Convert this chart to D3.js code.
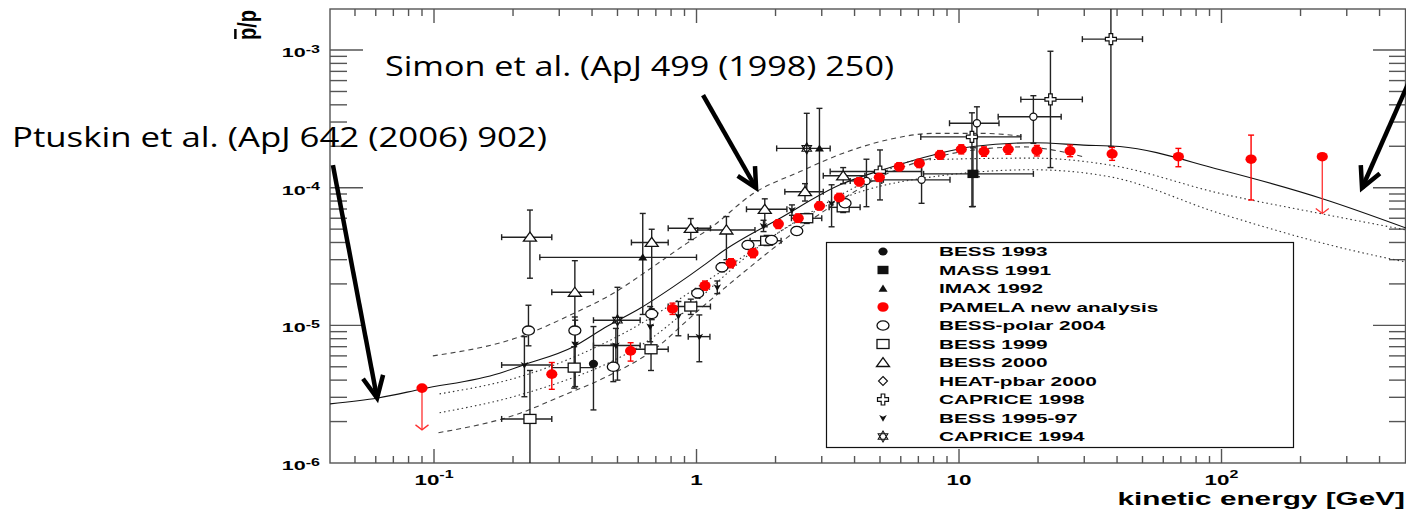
<!DOCTYPE html>
<html><head><meta charset="utf-8">
<script src="https://cdn.jsdelivr.net/npm/d3@7"></script>
<style>body{margin:0;background:#fff;overflow:hidden}</style>
</head><body>
<svg id="c" width="1406" height="513"></svg>
<script>
// ---------------- DATA ----------------
const xTickValues = [0.1, 1, 10, 100];
const xTickBase = ["10", "1", "10", "10"];
const xTickSup = ["-1", "", "", "2"];
const yTickValues = [1e-6, 1e-5, 1e-4, 1e-3];
const yTickBase = ["10", "10", "10", "10"];
const yTickSup = ["-6", "-5", "-4", "-3"];
const xTitle = "kinetic energy [GeV]";
const yTitle = "p/p";
const simonText = "Simon et al. (ApJ 499 (1998) 250)";
const ptuskinText = "Ptuskin et al. (ApJ 642 (2006) 902)";

// model curves [E (GeV), pbar/p]
const ptuskinSolid = [[0.0402,2.69e-6],[0.0612,2.97e-6],[0.090,3.45e-6],[0.178,4.49e-6],[0.219,5.15e-6],[0.340,7.0e-6],[0.455,9.8e-6],[0.610,1.33e-5],[0.817,1.91e-5],[1.094,2.83e-5],[1.229,3.34e-5],[2.08,6.0e-5],[3.52,1.05e-4],[5.31,1.38e-4],[7.98,1.73e-4],[11.3,1.99e-4],[19.2,2.12e-4],[29.8,2.04e-4],[41.0,1.99e-4],[98.7,1.35e-4],[244,8.28e-5],[505,5.09e-5]];
const simonUpper = [[0.099,6.0e-6],[0.213,8.28e-6],[0.340,1.22e-5],[0.482,1.71e-5],[0.684,2.67e-5],[0.918,3.94e-5],[1.125,5.07e-5],[1.65,9.1e-5],[2.48,1.31e-4],[3.62,1.78e-4],[5.31,2.22e-4],[7.98,2.48e-4],[12.4,2.48e-4],[17.8,2.35e-4]];
const simonLower = [[0.104,1.66e-6],[0.213,2.30e-6],[0.302,3.03e-6],[0.455,4.24e-6],[0.684,6.6e-6],[1.0,1.25e-5],[1.5,2.4e-5],[2.2,4.3e-5],[3.5,8.0e-5],[5.5,1.3e-4],[8.5,1.7e-4],[13,1.93e-4],[17.5,1.98e-4],[22,1.9e-4],[29.6,1.68e-4]];
const dottedUpper = [[0.105,3.18e-6],[0.213,4.24e-6],[0.542,9.0e-6],[1.16,2.26e-5],[2.5,6.0e-5],[4.2,1.05e-4],[7.1,1.59e-4],[19.1,1.64e-4],[37.6,1.46e-4],[98.6,9.1e-5],[237,6.5e-5],[505,4.93e-5]];
const dottedLower = [[0.105,2.32e-6],[0.213,3.13e-6],[0.573,6.6e-6],[2.13,4.93e-5],[3.73,8.6e-5],[7.96,1.2e-4],[19.1,1.35e-4],[37.6,1.2e-4],[98.6,6.5e-5],[309,3.53e-5],[505,2.88e-5]];

// PAMELA [E, value, low, high]
const pamela = [[0.281,4.42e-6,3.43e-6,5.37e-6],[0.561,6.52e-6,5.5e-6,7.48e-6],[0.810,1.32e-5,1.2e-5,1.45e-5],[1.077,1.94e-5,1.8e-5,2.1e-5],[1.353,2.84e-5,2.62e-5,3.05e-5],[1.641,3.36e-5,3.1e-5,3.62e-5],[2.05,5.45e-5,5.05e-5,5.85e-5],[2.44,6.0e-5,5.6e-5,6.45e-5],[2.94,7.36e-5,6.9e-5,7.9e-5],[3.50,8.46e-5,7.9e-5,9.1e-5],[4.17,1.105e-4,1.03e-4,1.18e-4],[4.97,1.19e-4,1.11e-4,1.28e-4],[5.92,1.42e-4,1.33e-4,1.52e-4],[7.06,1.50e-4,1.40e-4,1.61e-4],[8.47,1.73e-4,1.61e-4,1.86e-4],[10.2,1.90e-4,1.76e-4,2.05e-4],[12.45,1.83e-4,1.69e-4,1.98e-4],[15.4,1.90e-4,1.75e-4,2.06e-4],[19.8,1.86e-4,1.70e-4,2.03e-4],[26.5,1.85e-4,1.68e-4,2.04e-4],[38.3,1.76e-4,1.58e-4,1.96e-4],[68.5,1.68e-4,1.42e-4,1.93e-4],[129.6,1.61e-4,8.14e-5,2.41e-4]];
// PAMELA upper limits [E, value, arrow end]
const pamelaLimits = [[0.090,3.5e-6,1.74e-6],[242,1.68e-4,6.5e-5]];

// other experiments [E, value, E low, E high, value low, value high]
const bess1993 = [[0.405,5.25e-6,null,null,2.43e-6,9.8e-6]];
const mass1991 = [[11.3,1.26e-4,7.33,19.2,7.3e-5,1.95e-4]];
const imax1992 = [[0.624,3.12e-5,0.253,1.0,1.2e-5,6.5e-5],[2.94,1.93e-4,null,null,7.5e-5,3.77e-4]];
const bessPolar2004 = [[0.229,9.16e-6,null,null,7.1e-6,1.4e-5],[0.344,9.16e-6,null,null,7.5e-6,1.15e-5],[0.482,5.0e-6,null,null,3.9e-6,7.3e-6],[0.675,1.21e-5,null,null,1.1e-5,1.32e-5],[1.01,1.71e-5,null,null,1.58e-5,1.85e-5],[1.25,2.64e-5,null,null,2.45e-5,2.85e-5],[1.57,3.84e-5,null,null,3.6e-5,4.1e-5],[1.93,4.17e-5,null,null,3.9e-5,4.45e-5],[2.41,4.85e-5,null,null,4.55e-5,5.2e-5],[3.68,7.7e-5,null,null,7.2e-5,8.2e-5]];
const bess1999 = [[0.232,2.09e-6,0.181,0.281,9e-7,4.7e-6],[0.342,4.93e-6,0.281,0.405,3.5e-6,7.0e-6],[0.671,6.7e-6,0.565,0.78,4.7e-6,1.0e-5],[0.951,1.37e-5,0.78,1.13,1.2e-5,1.55e-5],[1.85,4.12e-5,1.6,2.1,3.8e-5,4.5e-5],[2.63,6.0e-5,2.3,3.0,5.5e-5,6.5e-5],[3.62,7.2e-5,3.2,4.2,6.6e-5,7.8e-5]];
const bess2000 = [[0.232,4.37e-5,0.181,0.281,2.2e-5,6.88e-5],[0.344,1.74e-5,0.281,0.405,9.3e-6,2.95e-5],[0.675,4.0e-5,0.565,0.78,1.23e-5,4.99e-5],[0.951,5.07e-5,0.78,1.13,4.2e-5,5.97e-5],[1.30,4.93e-5,1.01,1.67,3.0e-5,6.17e-5],[1.82,6.97e-5,1.55,2.21,5.2e-5,8.3e-5],[2.59,9.35e-5,2.17,3.04,8.0e-5,1.07e-4],[3.62,1.22e-4,3.04,4.38,1.07e-4,1.4e-4]];
const heat2000 = [[4.44,1.12e-4,3.85,5.08,7.28e-5,1.61e-4],[7.2,1.14e-4,5.15,9.24,7.7e-5,1.59e-4],[11.7,2.94e-4,9.2,14.2,1.2e-4,3.87e-4],[19.2,3.28e-4,14.1,24.5,2.1e-4,4.66e-4]];
const caprice1998 = [[5.0,1.31e-4,3.23,7.2,8.15e-5,1.88e-4],[11.2,2.34e-4,7.15,17.2,7.28e-5,3.5e-4],[22.3,4.38e-4,17.2,29.5,1.4e-4,9.8e-4],[37.9,1.2e-3,29.5,50,1.99e-4,2.5e-3]];
const bess1995_97 = [[0.221,5.15e-6,0.181,0.281,3.03e-6,8.28e-6],[0.345,7.3e-6,null,null,3.59e-6,1.09e-5],[0.493,7.13e-6,0.405,0.61,5.0e-6,9.5e-6],[0.666,9.8e-6,null,null,7.6e-6,1.37e-5],[0.853,1.17e-5,null,null,8.4e-6,1.49e-5],[1.025,8.28e-6,0.93,1.125,5.44e-6,1.19e-5],[1.20,1.89e-5,null,null,1.7e-5,2.1e-5],[1.80,5.27e-5,null,null,4.8e-5,5.8e-5],[2.31,6.88e-5,null,null,6.3e-5,7.5e-5],[3.27,7.7e-5,null,null,5.2e-5,1.05e-4]];
const caprice1994 = [[0.50,1.09e-5,0.405,0.61,4.0e-6,1.89e-5],[2.63,1.93e-4,2.02,3.23,9.1e-5,3.47e-4]];

const legendLabels = ["BESS 1993","MASS 1991","IMAX 1992","PAMELA new analysis","BESS-polar 2004","BESS 1999","BESS 2000","HEAT-pbar 2000","CAPRICE 1998","BESS 1995-97","CAPRICE 1994"];
const legendMarkers = ["fcircle","fsquare","ftri","red","ocircle","osquare","otri","diamond","cross","bess95","star"];

// annotation arrows [start E, start value, tip E, tip value]
const arrowPtuskin = [0.0412,1.46e-4,0.0607,2.96e-6];
const arrowSimon = [1.059,4.71e-4,1.686,9.95e-5];
const arrowRight = [520,6.0e-4,343,9.95e-5];

// ---------------- DRAWING ----------------
const L = 330, R = 1406, T = 9, B = 463;
const svg = d3.select("#c");
const x = d3.scaleLog().domain([0.04016, 504.4]).range([L, R]);
const y = d3.scaleLog().domain([1e-6, 1.987e-3]).range([B, T]);
const FONT = "'Liberation Sans', Arial, Helvetica, sans-serif";
const AX = "#555";

svg.append("rect").attr("width",1406).attr("height",513).attr("fill","#fff");
svg.append("clipPath").attr("id","plot").append("rect").attr("x",L).attr("y",T).attr("width",R-L).attr("height",B-T);

// ticks
const tg = svg.append("g").attr("stroke",AX).attr("stroke-width",1.4);
const isMajor = v => Math.abs(Math.log10(v) - Math.round(Math.log10(v))) < 1e-6;
x.ticks().filter(v => x(v) > L + 1 && x(v) < R - 1).forEach(v => {
  const len = isMajor(v) ? 14 : 7;
  tg.append("line").attr("x1",x(v)).attr("x2",x(v)).attr("y1",B).attr("y2",B-len);
  tg.append("line").attr("x1",x(v)).attr("x2",x(v)).attr("y1",T).attr("y2",T+len);
});
y.ticks().filter(v => y(v) > T + 1 && y(v) < B - 1).forEach(v => {
  const len = isMajor(v) ? 33 : 17;
  tg.append("line").attr("y1",y(v)).attr("y2",y(v)).attr("x1",L).attr("x2",L+len);
  tg.append("line").attr("y1",y(v)).attr("y2",y(v)).attr("x1",R).attr("x2",R-len);
});
svg.append("rect").attr("x",L).attr("y",T).attr("width",R-L-0.5).attr("height",B-T)
  .attr("fill","none").attr("stroke",AX).attr("stroke-width",1.4);

// tick labels
function stretched(px, py, anchor, size, sx) {
  return svg.append("text").attr("transform",`translate(${px},${py}) scale(${sx},1)`)
    .attr("text-anchor",anchor).attr("font-family",FONT).attr("font-weight","bold")
    .attr("font-size",size).attr("fill","#000");
}
xTickValues.forEach((v,i) => {
  const t = stretched(x(v), 485, "middle", 14, 1.6);
  t.append("tspan").text(xTickBase[i]);
  if (xTickSup[i]) t.append("tspan").attr("dy",-7).attr("font-size",10).text(xTickSup[i]);
});
yTickValues.forEach((v,i) => {
  const t = stretched(320, y(v)+7, "end", 13.5, 1.6);
  t.append("tspan").text(yTickBase[i]);
  t.append("tspan").attr("dy",-4.5).attr("font-size",10).text(yTickSup[i]);
});
stretched(1405, 505, "end", 18.6, 1.6).text(xTitle);
// y title, rotated
const yt = svg.append("g").attr("transform","translate(256,40) scale(1.25,1) rotate(-90)");
yt.append("text").attr("font-family",FONT).attr("font-weight","bold").attr("font-size",20).text(yTitle);
yt.append("line").attr("x1",1).attr("x2",11).attr("y1",-16.5).attr("y2",-16.5).attr("stroke","#000").attr("stroke-width",2);

// curves
const cg = svg.append("g").attr("clip-path","url(#plot)").attr("fill","none");
const line = d3.line().x(d => x(d[0])).y(d => y(d[1])).curve(d3.curveMonotoneX);
cg.append("path").attr("d",line(ptuskinSolid)).attr("stroke","#111").attr("stroke-width",1.1);
cg.append("path").attr("d",line(simonUpper)).attr("stroke","#444").attr("stroke-width",1.1).attr("stroke-dasharray","5,4");
cg.append("path").attr("d",line(simonLower)).attr("stroke","#444").attr("stroke-width",1.1).attr("stroke-dasharray","5,4");
cg.append("path").attr("d",line(dottedUpper)).attr("stroke","#333").attr("stroke-width",1.1).attr("stroke-dasharray","1.5,3");
cg.append("path").attr("d",line(dottedLower)).attr("stroke","#333").attr("stroke-width",1.1).attr("stroke-dasharray","1.5,3");

// markers
function marker(g, type, cx, cy) {
  const s = g.append("g").attr("transform",`translate(${cx},${cy})`);
  const blk = "#111";
  switch (type) {
    case "fcircle": s.append("ellipse").attr("rx",4.6).attr("ry",4).attr("fill",blk); break;
    case "fsquare": s.append("rect").attr("x",-5.5).attr("y",-4.2).attr("width",11).attr("height",8.4).attr("fill",blk); break;
    case "ftri": s.append("path").attr("d","M-4.5,3.2L4.5,3.2L0,-4Z").attr("fill",blk); break;
    case "red": s.append("ellipse").attr("rx",5.6).attr("ry",4.8).attr("fill","#ff0000"); break;
    case "ocircle": s.append("ellipse").attr("rx",6).attr("ry",4.6).attr("fill","#fff").attr("stroke",blk).attr("stroke-width",1.3); break;
    case "osquare": s.append("rect").attr("x",-6).attr("y",-4.5).attr("width",12).attr("height",9).attr("fill","#fff").attr("stroke",blk).attr("stroke-width",1.3); break;
    case "otri": s.append("path").attr("d","M-6.5,4L6.5,4L0,-5Z").attr("fill","#fff").attr("stroke",blk).attr("stroke-width",1.3); break;
    case "heat": s.append("circle").attr("r",3.6).attr("fill","#fff").attr("stroke",blk).attr("stroke-width",1.2); break;
    case "diamond": s.append("path").attr("d","M0,-4.5L4.5,0L0,4.5L-4.5,0Z").attr("fill","#fff").attr("stroke",blk).attr("stroke-width",1.1); break;
    case "cross": s.append("path").attr("d","M-1.8,-5.5H1.8V-1.8H5.5V1.8H1.8V5.5H-1.8V1.8H-5.5V-1.8H-1.8Z").attr("fill","#fff").attr("stroke",blk).attr("stroke-width",1.2); break;
    case "bess95": s.append("path").attr("d","M-3.8,-3L0,-1.2L3.8,-3L0,3.8Z").attr("fill",blk); break;
    case "star": s.append("path").attr("d","M0,-5.5L4.8,2.8L-4.8,2.8Z M0,5.5L4.8,-2.8L-4.8,-2.8Z").attr("fill","none").attr("stroke",blk).attr("stroke-width",1.1); break;
  }
}

const dg = svg.append("g").attr("clip-path","url(#plot)");
function errBars(rows, color) {
  const g = dg.append("g").attr("stroke",color).attr("stroke-width",1.4);
  rows.forEach(r => {
    const [E, v, eLo, eHi, vLo, vHi] = r;
    const cx = x(E), cy = y(v);
    if (eLo != null) {
      g.append("line").attr("x1",x(eLo)).attr("x2",x(eHi)).attr("y1",cy).attr("y2",cy);
      [eLo, eHi].forEach(e => g.append("line").attr("x1",x(e)).attr("x2",x(e)).attr("y1",cy-3).attr("y2",cy+3));
    }
    if (vLo != null) {
      g.append("line").attr("x1",cx).attr("x2",cx).attr("y1",y(vLo)).attr("y2",y(vHi));
      [vLo, vHi].forEach(w => g.append("line").attr("x1",cx-3).attr("x2",cx+3).attr("y1",y(w)).attr("y2",y(w)));
    }
  });
}
const series = [
  [bess1999,"osquare"],[bess2000,"otri"],[bessPolar2004,"ocircle"],[heat2000,"heat"],
  [caprice1998,"cross"],[caprice1994,"star"],[bess1993,"fcircle"],[mass1991,"fsquare"],
  [imax1992,"ftri"],[bess1995_97,"bess95"]
];
series.forEach(([rows]) => errBars(rows, "#222"));
// PAMELA error bars and limits
errBars(pamela.map(r => [r[0], r[1], null, null, r[2], r[3]]), "#ff0000");
const lg = dg.append("g").attr("stroke","#ff3030").attr("stroke-width",1.3).attr("fill","none");
pamelaLimits.forEach(r => {
  const cx = x(r[0]), y1 = y(r[1]), y2 = y(r[2]);
  lg.append("line").attr("x1",cx).attr("x2",cx).attr("y1",y1).attr("y2",y2);
  lg.append("path").attr("d",`M${cx-6.5},${y2-5}L${cx},${y2}L${cx+6.5},${y2-5}`);
});
series.forEach(([rows, type]) => rows.forEach(r => marker(dg, type, x(r[0]), y(r[1]))));
pamela.forEach(r => marker(dg, "red", x(r[0]), y(r[1])));
pamelaLimits.forEach(r => marker(dg, "red", x(r[0]), y(r[1])));

// legend
const lgx = 826.5, lgy = 242.5;
svg.append("rect").attr("x",lgx).attr("y",lgy).attr("width",467).attr("height",205)
  .attr("fill","#fff").attr("stroke","#111").attr("stroke-width",1.2);
legendLabels.forEach((lab, i) => {
  const cy = 251.5 + i * 18.5;
  marker(svg, legendMarkers[i], 883, cy);
  stretched(939, cy + 4.8, "start", 13, 1.6).text(lab);
});

// annotations
function arrow(a, headLen, headAng) {
  const x1 = x(a[0]), y1 = y(a[1]), x2 = x(a[2]), y2 = y(a[3]);
  const g = svg.append("g").attr("stroke","#000").attr("stroke-width",4.5).attr("fill","none");
  g.append("line").attr("x1",x1).attr("y1",y1).attr("x2",x2).attr("y2",y2);
  const ang = Math.atan2(y1 - y2, x1 - x2);
  const a1 = ang + headAng, a2 = ang - headAng;
  g.append("path").attr("stroke-linejoin","miter").attr("d",
    `M${x2 + headLen*Math.cos(a1)},${y2 + headLen*Math.sin(a1)}L${x2},${y2}L${x2 + headLen*Math.cos(a2)},${y2 + headLen*Math.sin(a2)}`);
}
arrow(arrowPtuskin, 24, 0.44);
arrow(arrowSimon, 22, 0.47);
arrow(arrowRight, 23, 0.47);

const AF = "'Open Sans', 'DejaVu Sans', sans-serif";
svg.append("text").attr("x",385).attr("y",76).attr("font-family",AF).attr("font-size",28)
  .attr("textLength",509).attr("lengthAdjust","spacingAndGlyphs").attr("fill","#000").text(simonText);
svg.append("text").attr("x",12).attr("y",147).attr("font-family",AF).attr("font-size",28)
  .attr("textLength",535).attr("lengthAdjust","spacingAndGlyphs").attr("fill","#000").text(ptuskinText);
</script>
</body></html>
